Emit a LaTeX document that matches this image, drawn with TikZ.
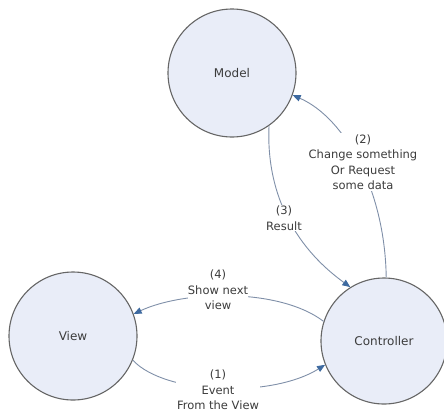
\documentclass[tikz,border=0pt]{standalone}
\usepackage{fontspec}
\setmainfont{DejaVu Sans}
\usetikzlibrary{arrows.meta}
\definecolor{nodefill}{HTML}{E9EDF8}
\definecolor{nodeedge}{HTML}{666666}
\definecolor{linkcol}{HTML}{7F8FA8}
\definecolor{tipcol}{HTML}{3E6AA0}
\definecolor{txtcol}{HTML}{3C3C3C}
\tikzset{
  part/.style={circle, draw=nodeedge, fill=nodefill, line width=1.1pt,
    minimum size=128pt, inner sep=0pt, text=txtcol,
    font=\fontsize{12}{15.5}\selectfont},
  link/.style={draw=linkcol, line width=0.9pt,
    -{Triangle[length=8pt,width=6.5pt,fill=tipcol,color=tipcol]}},
  caption/.style={fill=white, inner sep=1pt, align=center, text=txtcol,
    font=\fontsize{11.5}{15.5}\selectfont}
}
\begin{document}
\begin{tikzpicture}[x=1pt, y=-1pt]
  \useasboundingbox (0,0) rectangle (444,416);

  % the three MVC parts
  \node[part] (model) at (232,73) {Model};
  \node[part] (view)  at (73,336) {View};
  \node[part, minimum size=126pt] (ctrl) at (384,341) {Controller};

  % anchor points on the circles
  \coordinate (c2s) at (ctrl.88);
  \coordinate (m2e) at (model.-20);
  \coordinate (m3s) at (model.-55);
  \coordinate (c3e) at (ctrl.122);
  \coordinate (c4s) at (ctrl.162);
  \coordinate (v4e) at (view.20);
  \coordinate (v1s) at (view.-22);
  \coordinate (c1e) at (ctrl.-158);

  % (2) controller -> model
  \draw[link] (c2s) .. controls (385,190) and (345,118) .. (m2e);
  \node[caption] (l2) at (363,162) {(2)\\Change something\\Or Request\\some data};

  % (3) model -> controller
  \draw[link] (m3s) .. controls (266,190) and (292,245) .. (c3e);
  \node[caption] (l3) at (284,218) {(3)\\Result};

  % (4) controller -> view
  \draw[link] (c4s) .. controls (280,288) and (185,290) .. (v4e);
  \node[caption, inner sep=0pt] (l4) at (218,290) {(4)\\Show next\\view};

  % (1) view -> controller
  \draw[link] (v1s) .. controls (165,395) and (272,398) .. (c1e);
  \node[caption] (l1) at (218,390) {(1)\\Event\\From the View};
\end{tikzpicture}
\end{document}
